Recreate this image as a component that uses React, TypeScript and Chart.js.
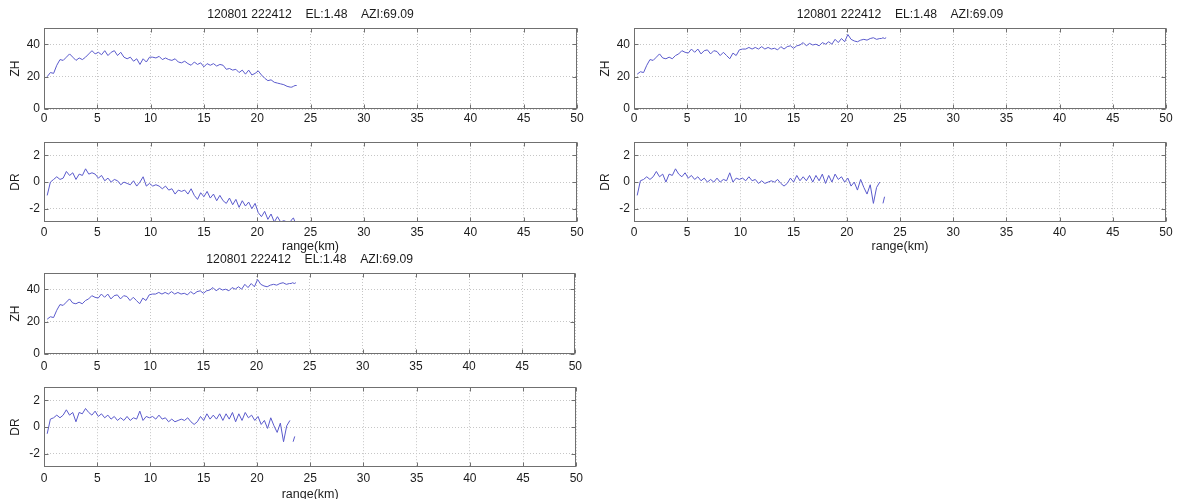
import React, { useEffect, useRef } from "react";
import { Chart, registerables } from "chart.js";

Chart.register(...registerables);

// ---------------- data ----------------
const RANGE_KM: number[] = [
  0.3, 0.6, 0.9, 1.2, 1.5, 1.8, 2.1, 2.4, 2.7, 3.0,
  3.3, 3.6, 3.9, 4.2, 4.5, 4.8, 5.1, 5.4, 5.7, 6.0,
  6.3, 6.6, 6.9, 7.2, 7.5, 7.8, 8.1, 8.4, 8.7, 9.0,
  9.3, 9.6, 9.9, 10.2, 10.5, 10.8, 11.1, 11.4, 11.7, 12.0,
  12.3, 12.6, 12.9, 13.2, 13.5, 13.8, 14.1, 14.4, 14.7, 15.0,
  15.3, 15.6, 15.9, 16.2, 16.5, 16.8, 17.1, 17.4, 17.7, 18.0,
  18.3, 18.6, 18.9, 19.2, 19.5, 19.8, 20.1, 20.4, 20.7, 21.0,
  21.3, 21.6, 21.9, 22.2, 22.5, 22.8, 23.1, 23.25, 23.4, 23.55, 23.7,
];

const ZH_LEFT: (number | null)[] = [
  20, 22.5, 22, 27, 30.5, 30, 32, 34, 32, 30,
  31.5, 30.5, 32, 34, 36, 34, 35, 33.5, 36, 33,
  35, 36, 33, 35, 32, 31, 32, 29.5, 31, 27.5,
  31, 29, 32, 32, 31.5, 32.5, 30.5, 31.5, 30.5, 30,
  31, 29, 28.5, 29.5, 28, 27, 29, 27.5, 28.5, 26,
  28, 27, 28, 26.5, 27.5, 27, 24.5, 25, 24, 24.5,
  22.5, 24, 21.5, 24, 21, 22, 23.5, 21, 19, 17.5,
  18, 16.5, 16, 15.5, 15, 14, 13.5, 13.5, 14, 14.5, 14.5,
];

const DR_LEFT: (number | null)[] = [
  -1.0, 0.0, 0.2, 0.4, 0.2, 0.3, 0.8, 0.5, 0.7, 0.2,
  0.6, 0.5, 1.0, 0.6, 0.7, 0.6, 0.3, 0.5, 0.1, 0.3,
  0.0, 0.2, 0.1, -0.2, 0.0, -0.1, -0.2, 0.1, -0.3, 0.0,
  0.4, -0.3, -0.1, -0.3, -0.2, -0.3, -0.5, -0.3, -0.6, -0.5,
  -0.9, -0.6, -0.7, -0.6, -0.9, -0.5, -1.0, -1.3, -0.8, -1.1,
  -0.7, -1.2, -0.9, -1.4, -1.0, -1.4, -1.6, -1.2, -1.7, -1.3,
  -1.9, -1.4, -1.8, -1.5, -2.0, -1.6, -2.3, -2.6, -2.2, -2.8,
  -2.4, -3.0, -2.6, -3.0, -2.9, -3.0, -3.0, -2.8, -2.7, -3.0, -3.0,
];

const ZH_RIGHT: (number | null)[] = [
  21.5, 23, 22.5, 27, 30.5, 30, 32, 34, 31.5, 31,
  32, 31, 33, 34, 36, 35, 34.5, 37, 35, 37,
  34, 36, 36.5, 34, 36, 35.5, 33, 35, 33, 31,
  34.5, 33, 36.5, 37, 37, 38, 37, 38, 37, 38.5,
  37, 38, 37, 37.5, 36.5, 38.5, 37, 38.5, 39, 37.5,
  39, 39.5, 41, 39, 40.5, 39.5, 40, 39, 41, 40,
  41.5, 40, 43, 41, 43.5, 41.5, 46, 43, 42, 41.5,
  42.5, 43, 42.5, 43.5, 44, 43, 43.5, 43.5, 44, 43.5, 44,
];

const DR_RIGHT: (number | null)[] = [
  -1.0, 0.1, 0.2, 0.4, 0.2, 0.4, 0.8, 0.4, 0.6, 0.0,
  0.6, 0.5, 1.0, 0.6, 0.4, 0.7, 0.3, 0.5, 0.2, 0.4,
  0.1, 0.3, 0.0, 0.2, 0.0, 0.3, 0.0, 0.2, 0.1, 0.7,
  0.0, 0.3, 0.2, 0.3, 0.1, 0.4, 0.1, 0.2, -0.1, 0.1,
  -0.1, 0.0, 0.1, 0.0, 0.2, -0.1, -0.3, -0.1, 0.3, 0.0,
  0.5, 0.1, 0.4, 0.1, 0.5, 0.0, 0.5, 0.1, 0.6, -0.1,
  0.5, 0.0, 0.6, 0.2, 0.4, 0.0, 0.3, -0.3, 0.0, -0.6,
  0.2, -0.4, -0.9, -0.2, -1.6, -0.4, 0.0, null, -1.6, -1.1, null,
];

const ZH_BOTTOM: (number | null)[] = [
  21.5, 23, 22.5, 27, 30.5, 30, 32, 34, 31.5, 31,
  32, 31, 33, 34, 36, 35, 34.5, 37, 35, 37,
  34, 36, 36.5, 34, 36, 35.5, 33, 35, 33, 31,
  34.5, 33, 36.5, 37, 37, 38, 37, 38, 37, 38.5,
  37, 38, 37, 37.5, 36.5, 38.5, 37, 38.5, 39, 37.5,
  39, 39.5, 41, 39, 40.5, 39.5, 40, 39, 41, 40,
  41.5, 40, 43, 41, 43.5, 41.5, 46, 43, 42, 41.5,
  42.5, 43, 42.5, 43.5, 44, 43, 43.5, 43.5, 44, 43.5, 44,
];

const DR_BOTTOM: (number | null)[] = [
  -0.5, 0.6, 0.7, 0.9, 0.7, 0.9, 1.3, 0.9, 1.1, 0.4,
  1.1, 1.0, 1.4, 1.1, 0.9, 1.2, 0.8, 1.0, 0.7, 0.9,
  0.6, 0.8, 0.5, 0.7, 0.5, 0.8, 0.5, 0.7, 0.6, 1.2,
  0.5, 0.8, 0.7, 0.8, 0.6, 0.9, 0.6, 0.7, 0.4, 0.6,
  0.4, 0.5, 0.6, 0.5, 0.7, 0.4, 0.2, 0.4, 0.8, 0.5,
  1.0, 0.6, 0.9, 0.6, 1.0, 0.5, 1.0, 0.6, 1.1, 0.4,
  1.0, 0.5, 1.1, 0.7, 0.9, 0.5, 0.8, 0.2, 0.5, -0.1,
  0.7, 0.1, -0.4, 0.3, -1.1, 0.1, 0.5, null, -1.1, -0.7, null,
];

const X_TICKS = [0, 5, 10, 15, 20, 25, 30, 35, 40, 45, 50];
const ZH_TICKS = [0, 20, 40];
const DR_TICKS = [-2, 0, 2];
const TITLE_TEXT = "120801 222412    EL:1.48    AZI:69.09";
const X_LABEL = "range(km)";

// ---------------- style ----------------
const FONT_FAMILY = "'Liberation Sans', Arial, Helvetica, sans-serif";
const TEXT_COLOR = "#1c1c1c";
const GRID_COLOR = "#c6c6c6";
const BOX_COLOR = "#707070";
const LINE_COLOR = "#5a5acc";

const Y_AXIS_W = 44;
const RIGHT_PAD = 10;

type PanelSpec = {
  id: string;
  kind: "ZH" | "DR";
  left: number;
  right: number;
  top: number;
  bottom: number;
  values: (number | null)[];
  title: boolean;
  xTitle: boolean;
  xTickPad: number;
  xTitlePad: number;
};

const PANELS: PanelSpec[] = [
  { id: "zh-a", kind: "ZH", left: 44, right: 577, top: 28, bottom: 109, values: ZH_LEFT, title: true, xTitle: false, xTickPad: 2, xTitlePad: 0 },
  { id: "dr-a", kind: "DR", left: 44, right: 577, top: 141, bottom: 222, values: DR_LEFT, title: false, xTitle: true, xTickPad: 3, xTitlePad: 0 },
  { id: "zh-b", kind: "ZH", left: 634, right: 1166, top: 28, bottom: 109, values: ZH_RIGHT, title: true, xTitle: false, xTickPad: 2, xTitlePad: 0 },
  { id: "dr-b", kind: "DR", left: 634, right: 1166, top: 141, bottom: 222, values: DR_RIGHT, title: false, xTitle: true, xTickPad: 3, xTitlePad: 0 },
  { id: "zh-c", kind: "ZH", left: 44, right: 577, top: 273, bottom: 354, values: ZH_BOTTOM, title: true, xTitle: false, xTickPad: 5, xTitlePad: 0 },
  { id: "dr-c", kind: "DR", left: 44, right: 577, top: 386, bottom: 467, values: DR_BOTTOM, title: false, xTitle: true, xTickPad: 4, xTitlePad: -3 },
];

function geometry(p: PanelSpec) {
  const topSpace = p.title ? 28 : 10;
  const bottomSpace = p.xTitle ? 32 : 18;
  return {
    x: p.left - Y_AXIS_W,
    y: p.top - topSpace,
    w: p.right - p.left + Y_AXIS_W + RIGHT_PAD,
    h: p.bottom - p.top + topSpace + bottomSpace,
    topSpace,
    bottomSpace,
  };
}

const boxPlugin = {
  id: "matlabBox",
  afterDraw(chart: any) {
    const { ctx, chartArea: a, scales } = chart;
    const L = Math.round(a.left) + 0.5;
    const R = Math.round(a.right) - 0.5;
    const T = Math.round(a.top) + 0.5;
    const B = Math.round(a.bottom) - 0.5;
    ctx.save();
    ctx.setLineDash([]);
    ctx.strokeStyle = BOX_COLOR;
    ctx.lineWidth = 1;
    ctx.strokeRect(L, T, R - L, B - T);
    const tl = 4;
    ctx.beginPath();
    for (const t of scales.x.ticks) {
      const px = Math.round(scales.x.getPixelForValue(t.value)) + 0.5;
      ctx.moveTo(px, B);
      ctx.lineTo(px, B - tl);
      ctx.moveTo(px, T);
      ctx.lineTo(px, T + tl);
    }
    for (const t of scales.y.ticks) {
      const py = Math.round(scales.y.getPixelForValue(t.value)) + 0.5;
      ctx.moveTo(L, py);
      ctx.lineTo(L + tl, py);
      ctx.moveTo(R, py);
      ctx.lineTo(R - tl, py);
    }
    ctx.stroke();
    ctx.restore();
  },
};

function buildConfig(p: PanelSpec, g: ReturnType<typeof geometry>): any {
  const isZH = p.kind === "ZH";
  const yTicks = isZH ? ZH_TICKS : DR_TICKS;
  const tickFont = { family: FONT_FAMILY, size: 12 };
  const labelFont = { family: FONT_FAMILY, size: 12 };
  return {
    type: "line",
    data: {
      datasets: [
        {
          data: RANGE_KM.map((x, i) => ({ x, y: p.values[i] })),
          borderColor: LINE_COLOR,
          borderWidth: 1,
          pointRadius: 0,
          pointHoverRadius: 0,
          spanGaps: false,
          tension: 0,
          fill: false,
        },
      ],
    },
    options: {
      animation: false,
      responsive: false,
      events: [],
      layout: { padding: { left: 0, right: RIGHT_PAD, top: p.title ? 0 : g.topSpace, bottom: 0 } },
      plugins: {
        legend: { display: false },
        tooltip: { enabled: false },
        title: {
          display: p.title,
          fullSize: false,
          text: TITLE_TEXT,
          color: TEXT_COLOR,
          font: { family: FONT_FAMILY, size: 12.2, weight: "normal", lineHeight: 1.2 },
          padding: { top: 7.2, bottom: 6.16 },
        },
      },
      scales: {
        x: {
          type: "linear",
          min: 0,
          max: 50,
          afterBuildTicks: (s: any) => {
            s.ticks = X_TICKS.map((v) => ({ value: v }));
          },
          afterFit: (s: any) => {
            s.height = g.bottomSpace;
          },
          ticks: { autoSkip: false, maxRotation: 0, padding: p.xTickPad, color: TEXT_COLOR, font: tickFont },
          grid: { color: GRID_COLOR, lineWidth: 1, drawTicks: false },
          border: { display: false, dash: [1, 2] },
          title: {
            display: p.xTitle,
            text: X_LABEL,
            color: TEXT_COLOR,
            font: { family: FONT_FAMILY, size: 12.5 },
            padding: { top: 0, bottom: p.xTitlePad },
          },
        },
        y: {
          type: "linear",
          min: isZH ? 0 : -3,
          max: isZH ? 50 : 3,
          afterBuildTicks: (s: any) => {
            s.ticks = yTicks.map((v) => ({ value: v }));
          },
          afterFit: (s: any) => {
            s.width = Y_AXIS_W;
          },
          ticks: { padding: 4, color: TEXT_COLOR, font: tickFont },
          grid: { color: GRID_COLOR, lineWidth: 1, drawTicks: false },
          border: { display: false, dash: [1, 2] },
          title: {
            display: true,
            text: p.kind,
            color: TEXT_COLOR,
            font: labelFont,
            padding: { top: 8, bottom: 0 },
          },
        },
      },
    },
    plugins: [boxPlugin],
  };
}

function Panel({ spec }: { spec: PanelSpec }) {
  const ref = useRef<HTMLCanvasElement | null>(null);
  const g = geometry(spec);
  useEffect(() => {
    const canvas = ref.current;
    if (!canvas) return;
    const chart = new Chart(canvas, buildConfig(spec, g));
    return () => chart.destroy();
  }, [spec]);
  return (
    <canvas
      ref={ref}
      width={g.w}
      height={g.h}
      style={{ position: "absolute", left: g.x, top: g.y, width: g.w, height: g.h }}
    />
  );
}

export default function App() {
  return (
    <div
      style={{
        position: "fixed",
        left: 0,
        top: 0,
        width: 1177,
        height: 499,
        overflow: "hidden",
        background: "#ffffff",
      }}
    >
      {PANELS.map((p) => (
        <Panel key={p.id} spec={p} />
      ))}
    </div>
  );
}
